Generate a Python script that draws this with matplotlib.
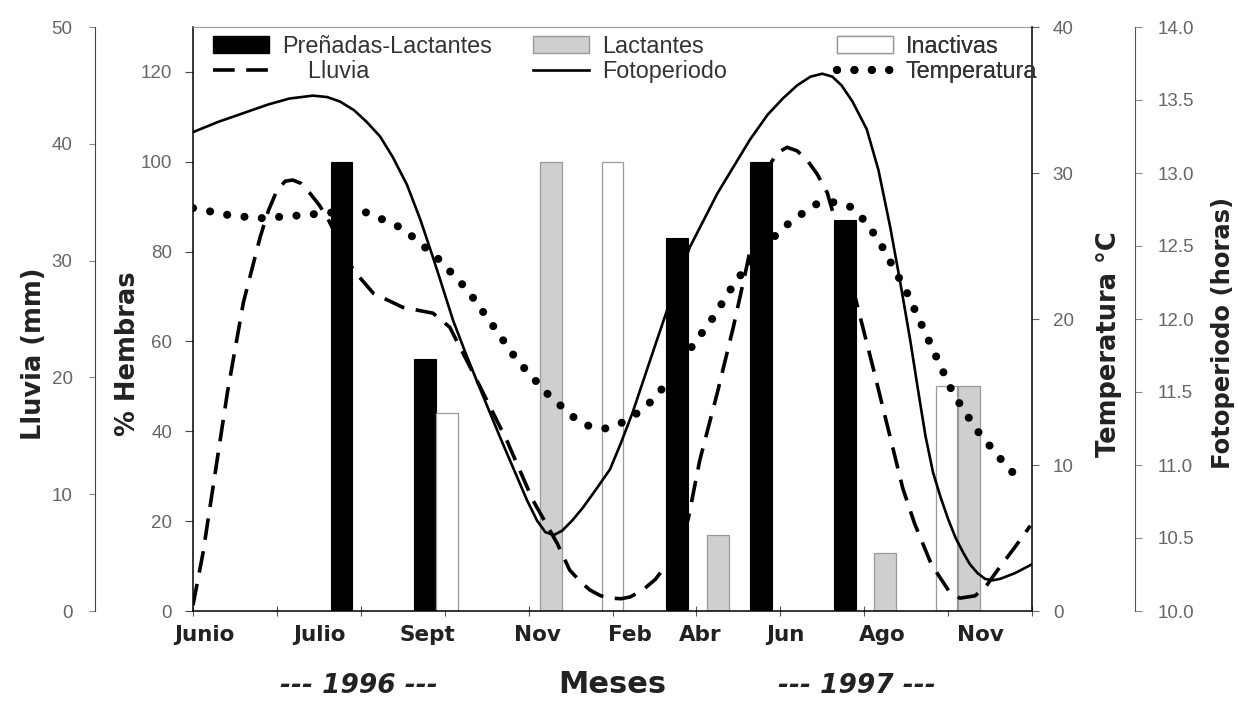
import matplotlib
matplotlib.use('Agg')
from matplotlib import pyplot as plt
from matplotlib.patches import Patch
from matplotlib.lines import Line2D
from matplotlib.ticker import FormatStrFormatter
from matplotlib.transforms import blended_transform_factory

# sampling axis: one unit per tick, Junio 1996 at 0
month_labels = ['Junio', 'Julio', 'Sept', 'Nov', 'Feb', 'Abr', 'Jun', 'Ago', 'Nov']
month_pos = [0.14, 1.51, 2.79, 4.11, 5.21, 6.04, 7.06, 8.21, 9.38]

# % of females in each reproductive state
preg_x = [1.77, 2.77, 5.77, 6.77, 7.77]
preg = [100, 56, 83, 100, 87]
lact_x = [4.27, 6.26, 8.25, 9.25]
lact = [100, 17, 13, 50]
inact_x = [3.03, 5.0, 8.98]
inact = [44, 100, 50]

# rainfall (mm)
rain_x = [0.0, 0.12, 0.41, 0.60, 0.80, 0.90, 1.00, 1.10, 1.19, 1.29, 1.39, 1.50, 1.60,
          1.75, 1.91, 2.15, 2.50, 2.86, 3.06, 3.38, 3.74, 4.05, 4.34, 4.49, 4.62, 4.73,
          4.86, 4.99, 5.10, 5.21, 5.36, 5.51, 5.65, 5.78, 5.90, 6.04, 6.25, 6.44, 6.60,
          6.84, 6.96, 7.08, 7.20, 7.32, 7.44, 7.56, 7.70, 7.87, 8.10, 8.34, 8.46, 8.60,
          8.80, 9.02, 9.14, 9.32, 9.44, 9.62, 9.80, 9.98]
rain = [0.5, 5.0, 18.7, 26.4, 32.0, 34.3, 36.0, 36.8, 36.9, 36.6, 35.8, 34.8, 33.7,
        31.5, 29.2, 27.2, 26.0, 25.5, 24.3, 19.8, 14.6, 9.5, 5.8, 3.5, 2.5, 1.8,
        1.3, 1.1, 1.05, 1.2, 1.8, 2.7, 4.0, 5.7, 7.8, 12.9, 18.7, 24.3, 29.5,
        37.8, 39.2, 39.7, 39.4, 38.6, 37.4, 35.8, 32.3, 27.5, 21.0, 14.0, 10.5, 7.5,
        4.0, 1.6, 1.1, 1.3, 2.0, 3.8, 5.5, 7.3]

# temperature (deg C)
temp_x = [0.0, 0.44, 0.80, 1.28, 1.67, 2.07, 2.50, 2.91, 3.27, 3.58, 3.86, 4.22, 4.61,
          4.76, 4.91, 5.08, 5.24, 5.45, 5.65, 5.92, 6.20, 6.48, 7.00, 7.23, 7.44, 7.64,
          7.83, 8.03, 8.22, 8.51, 8.78, 9.06, 9.34, 9.70, 9.89]
temp = [27.6, 27.1, 26.9, 27.1, 27.3, 27.3, 26.2, 24.2, 22.0, 19.5, 17.2, 14.9, 12.9,
        12.6, 12.5, 12.8, 13.3, 14.3, 15.6, 17.9, 20.1, 22.7, 26.1, 27.1, 27.9, 28.0,
        27.7, 26.6, 24.9, 21.8, 18.4, 14.9, 12.4, 9.9, 8.8]

# photoperiod (hours)
photo_x = [0.0, 0.30, 0.60, 0.90, 1.15, 1.43, 1.60, 1.75, 1.92, 2.07, 2.23, 2.38, 2.55,
           2.71, 2.85, 2.94, 3.10, 3.24, 3.38, 3.66, 3.98, 4.10, 4.20, 4.30, 4.40, 4.52,
           4.65, 4.80, 4.97, 5.10, 5.24, 5.45, 5.65, 5.92, 6.25, 6.64, 6.85, 7.03, 7.20,
           7.36, 7.50, 7.62, 7.73, 7.86, 8.03, 8.17, 8.31, 8.43, 8.55, 8.64, 8.73, 8.82,
           8.91, 9.00, 9.09, 9.18, 9.26, 9.35, 9.44, 9.53, 9.62, 9.80, 10.0]
photo = [13.28, 13.35, 13.41, 13.47, 13.51, 13.53, 13.52, 13.49, 13.43, 13.35, 13.25,
         13.11, 12.92, 12.68, 12.44, 12.28, 11.99, 11.78, 11.58, 11.19, 10.76, 10.62,
         10.54, 10.52, 10.55, 10.62, 10.71, 10.83, 10.97, 11.15, 11.36, 11.72, 12.06,
         12.49, 12.86, 13.23, 13.40, 13.51, 13.60, 13.66, 13.68, 13.66, 13.60, 13.49,
         13.30, 13.02, 12.63, 12.25, 11.85, 11.52, 11.20, 10.95, 10.78, 10.63, 10.50,
         10.40, 10.32, 10.26, 10.22, 10.21, 10.22, 10.26, 10.32]

NUM_FONT = dict(family='Liberation Sans', size=13.5, color='#666666')
LABEL_FONT = dict(family='DejaVu Sans', size=18.5, fontweight='bold', color='#222222')

plt.rcParams['font.family'] = 'DejaVu Sans'

fig = plt.figure(figsize=(12.38, 7.01), dpi=100)
ax = fig.add_axes([193 / 1238, 90 / 701, 839 / 1238, 584 / 701])

# bars on the main (% Hembras) axis
bw = 0.26
ax.bar(preg_x, preg, width=bw, color='black', edgecolor='black', linewidth=0.8, zorder=2)
ax.bar(lact_x, lact, width=bw, color='#cfcfcf', edgecolor='#9a9a9a', linewidth=0.9, zorder=2)
ax.bar(inact_x, inact, width=bw, color='white', edgecolor='#9a9a9a', linewidth=0.9, zorder=2)

ax.set_xlim(0, 10)
ax.set_ylim(0, 130)
ax.set_yticks(range(0, 121, 20))
ax.set_xticks(range(11))
ax.set_xticklabels([])
ax.set_xticks(month_pos, minor=True)
ax.set_xticklabels(month_labels, minor=True, fontsize=15.5, fontweight='bold', color='#222222')
ax.tick_params(axis='x', which='major', direction='inout', length=7, color='#555555')
ax.tick_params(axis='x', which='minor', length=0, pad=10)
ax.tick_params(axis='y', direction='out', length=6, pad=9, color='#444444')
for t in ax.get_yticklabels():
    t.set(**NUM_FONT)
ax.spines['right'].set_visible(False)
ax.spines['top'].set_color('#9a9a9a')
ax.spines['top'].set_linewidth(0.8)
ax.spines['left'].set_linewidth(1.1)
ax.spines['bottom'].set_linewidth(1.1)
ax.set_ylabel('% Hembras', **LABEL_FONT)
ax.yaxis.set_label_coords(-0.062, 0.44)
ax.set_xlabel('Meses', fontsize=22, fontweight='bold', color='#222222', labelpad=18)

trans = blended_transform_factory(ax.transData, fig.transFigure)
ax.text(1.98, 0.021, '--- 1996 ---', transform=trans, ha='center', va='center',
        fontsize=19, fontweight='bold', style='italic', color='#222222')
ax.text(7.91, 0.021, '--- 1997 ---', transform=trans, ha='center', va='center',
        fontsize=19, fontweight='bold', style='italic', color='#222222')


def only_spine(a, side):
    for s in a.spines:
        a.spines[s].set_visible(s == side)


# rainfall axis, pushed out to the far left
ax_rain = ax.twinx()
only_spine(ax_rain, 'left')
ax_rain.spines['left'].set_position(('axes', -0.117))
ax_rain.spines['left'].set_color('#444444')
ax_rain.yaxis.set_ticks_position('left')
ax_rain.yaxis.set_label_position('left')
ax_rain.set_ylim(0, 50)
ax_rain.set_yticks(range(0, 51, 10))
ax_rain.tick_params(axis='y', direction='out', length=4, pad=12, color='#888888')
for t in ax_rain.get_yticklabels():
    t.set(**NUM_FONT)
ax_rain.set_ylabel('Lluvia (mm)', **LABEL_FONT)
ax_rain.yaxis.set_label_coords(-0.174, 0.44)
ax_rain.plot(rain_x, rain, color='black', lw=2.6, dashes=(6, 3.2), solid_capstyle='butt')

# temperature axis on the right edge
ax_temp = ax.twinx()
only_spine(ax_temp, 'right')
ax_temp.spines['right'].set_linewidth(1.1)
ax_temp.set_ylim(0, 40)
ax_temp.set_yticks(range(0, 41, 10))
ax_temp.tick_params(axis='y', direction='out', length=5, pad=10, color='#666666')
for t in ax_temp.get_yticklabels():
    t.set(**NUM_FONT)
ax_temp.set_ylabel('Temperatura °C', **LABEL_FONT)
ax_temp.yaxis.set_label_coords(1.076, 0.457)
ax_temp.plot(temp_x, temp, color='black', lw=5.8, dashes=(0.01, 2.15),
             dash_capstyle='round')

# photoperiod axis further right
ax_photo = ax.twinx()
only_spine(ax_photo, 'right')
ax_photo.spines['right'].set_position(('axes', 1.1228))
ax_photo.spines['right'].set_color('#555555')
ax_photo.set_ylim(10, 14)
ax_photo.set_yticks([10 + 0.5 * i for i in range(9)])
ax_photo.yaxis.set_major_formatter(FormatStrFormatter('%.1f'))
ax_photo.tick_params(axis='y', direction='out', length=5, pad=11, color='#888888')
for t in ax_photo.get_yticklabels():
    t.set(**NUM_FONT)
ax_photo.set_ylabel('Fotoperiodo (horas)', **dict(LABEL_FONT, size=17.5))
ax_photo.yaxis.set_label_coords(1.2135, 0.476)
ax_photo.plot(photo_x, photo, color='black', lw=1.9)

# legend, three columns laid out like the original key
h_preg = Patch(facecolor='black', edgecolor='black')
h_lact = Patch(facecolor='#cfcfcf', edgecolor='#9a9a9a')
h_inact = Patch(facecolor='white', edgecolor='#9a9a9a')
h_rain = Line2D([], [], color='black', lw=2.6, dashes=(6, 3.2))
h_photo = Line2D([], [], color='black', lw=1.9)
h_temp = Line2D([], [], color='black', lw=5.8, dashes=(0.01, 2.15), dash_capstyle='round')

columns = [
    (213, [h_preg, h_rain], ['Preñadas-Lactantes', '    Lluvia']),
    (533, [h_lact, h_photo], ['Lactantes', 'Fotoperiodo']),
    (837, [h_inact, h_temp], ['Inactivas', 'Temperatura']),
]
for x0, handles, labels in columns:
    leg = ax_photo.legend(handles, labels, loc='upper left',
                          bbox_to_anchor=(x0 / 1238, 1 - 35 / 701),
                          bbox_transform=fig.transFigure, frameon=False,
                          borderpad=0, borderaxespad=0, handlelength=2.4,
                          handleheight=0.75, handletextpad=0.55, labelspacing=0.1,
                          prop={'family': 'Liberation Sans', 'size': 16.8})
    for t in leg.get_texts():
        t.set_color('#333333')
    ax_photo.add_artist(leg)

fig.savefig('out.png', dpi=100)
